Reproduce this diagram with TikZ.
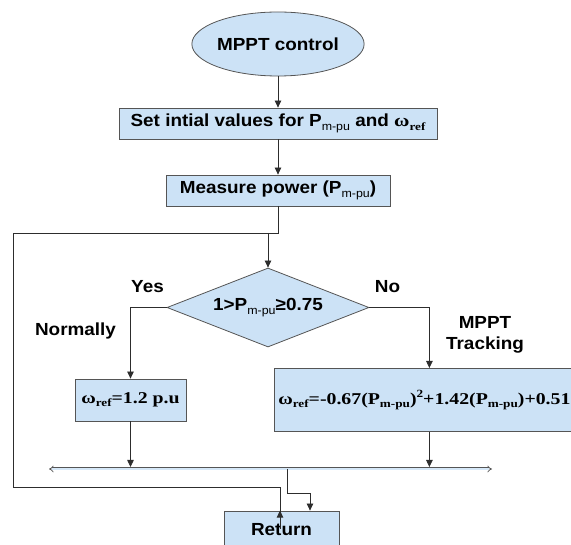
\documentclass[tikz,border=0pt]{standalone}
\usepackage{fontspec}
\setmainfont{Liberation Sans}
\newfontfamily\sansB[FakeStretch=1.08]{Liberation Sans}
\newfontfamily\serB[FakeStretch=1.2]{Liberation Serif}
\usetikzlibrary{shapes.geometric,arrows.meta}
\definecolor{boxfill}{RGB}{204,226,246}
\definecolor{edgec}{RGB}{85,85,85}
\definecolor{linec}{RGB}{45,45,45}
\newcommand{\sfsub}[1]{\raisebox{-0.4ex}{\fontsize{11.5}{12}\selectfont\mdseries #1}}
\newcommand{\rmsub}[1]{\raisebox{-0.4ex}{\fontsize{11}{12}\selectfont #1}}
\newcommand{\rmsup}[1]{\raisebox{0.85ex}{\fontsize{11}{12}\selectfont #1}}
\tikzset{
  base/.style={draw=edgec, line width=0.8pt, fill=boxfill, inner sep=0pt,
    font=\sansB\bfseries\fontsize{17.5}{21}\selectfont},
  procbox/.style={base, rectangle},
  startbox/.style={base, ellipse},
  decbox/.style={base, diamond, aspect=2.56},
  lbl/.style={font=\sansB\bfseries\fontsize{17.5}{21}\selectfont, inner sep=0pt, align=center},
  conn/.style={draw=linec, line width=0.8pt},
  arr/.style={conn, -{Triangle[width=6.5pt,length=7pt]}},
  busline/.style={draw=edgec, line width=0.75pt, double=boxfill!80!white, double distance=1.5pt,
    {Implies}-{Implies}},
  formula/.style={font=\serB\bfseries\fontsize{16.5}{20}\selectfont}
}
\begin{document}
\begin{tikzpicture}[x=1pt, y=-1pt]
\useasboundingbox (0,0) rectangle (571,545);
\clip (0,0) rectangle (571,545);

\node[startbox, minimum width=142pt, minimum height=64pt] (start) at (278,44) {MPPT control};
\node[procbox, minimum width=318pt, minimum height=31pt] (init) at (278,123.5)
  {Set intial values for P\sfsub{m-pu} and {\serB ω\rmsub{ref}}};
\node[procbox, minimum width=224pt, minimum height=31pt] (meas) at (278,190.5)
  {Measure power (P\sfsub{m-pu})};
\node[decbox, minimum width=202pt, minimum height=79pt] (dec) at (268,307.5)
  {1>P\sfsub{m-pu}≥0.75};
\node[procbox, formula, minimum width=111pt, minimum height=42pt] (box1) at (130.5,400)
  {ω\rmsub{ref}=1.2 p.u};
\node[procbox, formula, anchor=north west, minimum width=310pt, minimum height=63pt,
  text width=302pt, inner xsep=4pt, align=left] (box2) at (274,368)
  {ω\rmsub{ref}=-0.67(P\rmsub{m-pu})\rmsup{2}+1.42(P\rmsub{m-pu})+0.51};
\node[procbox, minimum width=115pt, minimum height=38pt] (ret) at (281.5,530) {Return};

\node[lbl] (yes) at (147.5,287) {Yes};
\node[lbl] (no) at (387.5,287) {No};
\node[lbl] (norm) at (75.5,331) {Normally};
\node[lbl] (track) at (485,334.5) {MPPT\\[0pt]Tracking};

\coordinate (jtop) at (278,233);
\coordinate (ltop) at (13,233);
\coordinate (lbot) at (13,487);
\coordinate (dtop) at (268,233);
\coordinate (busL) at (49,469);
\coordinate (busR) at (492,469);
\coordinate (busM) at (287,469);
\coordinate (busM2) at (287,493);
\coordinate (rin1) at ([xshift=-1.5pt]ret.north);
\coordinate (rin2) at ([xshift=28.5pt]ret.north);

\draw[arr] (start) -- (init);
\draw[arr] (init) -- (meas);
\draw[conn] (meas.south) -- (jtop) -- (ltop) -- (lbot) -| ([yshift=-18pt]rin1);
\draw[arr] ([yshift=-18pt]rin1) -- (rin1);
\draw[arr] (dtop) -- (dec.north);
\draw[arr] (dec.west) -| (box1.north);
\draw[arr] (dec.east) -| (box2.north);
\draw[arr] (box1.south) -- ([yshift=2pt]box1.south |- busL);
\draw[arr] (box2.south) -- ([yshift=2pt]box2.south |- busL);
\draw[busline] (busL) -- (busR);
\draw[arr] (busM) -- (busM2) -| (rin2);
\end{tikzpicture}
\end{document}
